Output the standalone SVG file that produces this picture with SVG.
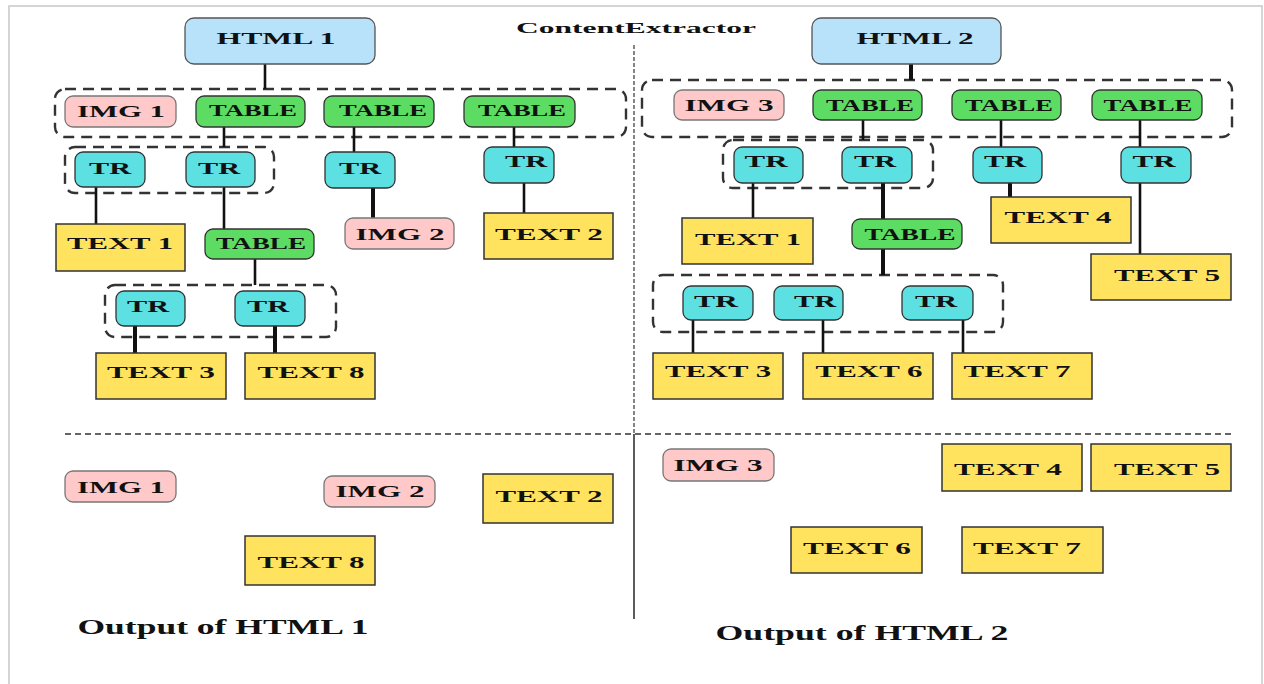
<svg xmlns="http://www.w3.org/2000/svg" width="1264" height="684" viewBox="0 0 1264 684">
<style>
.html{fill:#b8e2fa;stroke:#555;stroke-width:1.3}
.img{fill:#ffc9c9;stroke:#777;stroke-width:1.3}
.tbl{fill:#5cdc62;stroke:#333;stroke-width:1.3}
.tr{fill:#5ce0e2;stroke:#333;stroke-width:1.3}
.txt{fill:#ffe35e;stroke:#333;stroke-width:1.5}
.grp{fill:none;stroke:#333;stroke-width:2.4;stroke-dasharray:11 7}
text{font-family:"Liberation Serif","Times New Roman",serif;font-weight:bold;fill:#111;text-anchor:middle}
.n{font-size:17px}
.h{font-size:17px}
.conn line{stroke:#111;stroke-width:2.6}
.conn line.thick{stroke-width:4}
</style>
<rect x="9" y="6" width="1253" height="690" fill="#fff" stroke="#c8c8c8" stroke-width="1.5"/>
<text x="636" y="33" font-size="15" textLength="240" lengthAdjust="spacingAndGlyphs">ContentExtractor</text>
<g id="separators">
<line x1="634" y1="45" x2="634" y2="434" stroke="#333" stroke-width="1.2" stroke-dasharray="4 2"/>
<line x1="634" y1="434" x2="634" y2="619" stroke="#333" stroke-width="1.6"/>
<line x1="65" y1="434" x2="1231" y2="434" stroke="#333" stroke-width="1.5" stroke-dasharray="6 4"/>
</g>
<g id="groups">
<rect class="grp" x="55" y="89" width="571" height="48" rx="10"/>
<rect class="grp" x="65" y="147" width="209" height="46" rx="10"/>
<rect class="grp" x="105" y="285" width="231" height="52" rx="10"/>
<rect class="grp" x="642" y="80" width="590" height="57" rx="10"/>
<rect class="grp" x="723" y="140" width="210" height="48" rx="10"/>
<rect class="grp" x="653" y="275" width="350" height="57" rx="10"/>
</g>
<g class="conn" id="connectors">
<line x1="265" y1="64" x2="265" y2="89"/>
<line x1="224" y1="127" x2="224" y2="147"/>
<line x1="354" y1="127" x2="354" y2="152"/>
<line x1="514" y1="127" x2="514" y2="147"/>
<line x1="96" y1="187" x2="96" y2="224"/>
<line x1="224" y1="187" x2="224" y2="229"/>
<line class="thick" x1="373" y1="188" x2="373" y2="218"/>
<line x1="524" y1="183" x2="524" y2="213"/>
<line x1="255" y1="259" x2="255" y2="285"/>
<line class="thick" x1="135" y1="326" x2="135" y2="353"/>
<line class="thick" x1="275" y1="326" x2="275" y2="353"/>
<line class="thick" x1="911" y1="64" x2="911" y2="80"/>
<line x1="863" y1="120" x2="863" y2="140"/>
<line x1="1001" y1="120" x2="1001" y2="147"/>
<line x1="1140" y1="120" x2="1140" y2="147"/>
<line x1="753" y1="183" x2="753" y2="218"/>
<line class="thick" x1="883" y1="183" x2="883" y2="219"/>
<line class="thick" x1="1010" y1="183" x2="1010" y2="197"/>
<line x1="1140" y1="183" x2="1140" y2="254"/>
<line class="thick" x1="883" y1="249" x2="883" y2="275"/>
<line x1="693" y1="320" x2="693" y2="353"/>
<line x1="823" y1="320" x2="823" y2="353"/>
<line x1="963" y1="320" x2="963" y2="353"/>
</g>
<!-- Left tree -->
<g id="html1"><rect class="html" x="185" y="18" width="190" height="46" rx="9"/><text class="h" x="276" y="44" textLength="119" lengthAdjust="spacingAndGlyphs">HTML 1</text></g>
<g id="img1"><rect class="img" x="65" y="96" width="111" height="31" rx="8"/><text class="n" x="121" y="117" textLength="88" lengthAdjust="spacingAndGlyphs">IMG 1</text></g>
<g id="table1a"><rect class="tbl" x="196" y="96" width="109" height="31" rx="8"/><text class="n" x="253" y="116" textLength="88" lengthAdjust="spacingAndGlyphs">TABLE</text></g>
<g id="table1b"><rect class="tbl" x="324" y="96" width="110" height="31" rx="8"/><text class="n" x="383" y="116" textLength="88" lengthAdjust="spacingAndGlyphs">TABLE</text></g>
<g id="table1c"><rect class="tbl" x="464" y="96" width="111" height="31" rx="8"/><text class="n" x="522" y="116" textLength="88" lengthAdjust="spacingAndGlyphs">TABLE</text></g>
<g id="tr1a"><rect class="tr" x="75" y="152" width="70" height="35" rx="8"/><text class="n" x="110" y="174" textLength="42" lengthAdjust="spacingAndGlyphs">TR</text></g>
<g id="tr1b"><rect class="tr" x="186" y="152" width="69" height="35" rx="8"/><text class="n" x="219" y="174" textLength="42" lengthAdjust="spacingAndGlyphs">TR</text></g>
<g id="tr1c"><rect class="tr" x="325" y="152" width="70" height="36" rx="8"/><text class="n" x="360" y="174" textLength="42" lengthAdjust="spacingAndGlyphs">TR</text></g>
<g id="tr1d"><rect class="tr" x="484" y="147" width="70" height="36" rx="8"/><text class="n" x="526" y="167" textLength="42" lengthAdjust="spacingAndGlyphs">TR</text></g>
<g id="text1a"><rect class="txt" x="56" y="224" width="129" height="47"/><text class="n" x="120" y="249" textLength="106" lengthAdjust="spacingAndGlyphs">TEXT 1</text></g>
<g id="table1d"><rect class="tbl" x="205" y="229" width="109" height="30" rx="8"/><text class="n" x="261" y="249" textLength="90" lengthAdjust="spacingAndGlyphs">TABLE</text></g>
<g id="img2"><rect class="img" x="345" y="218" width="109" height="31" rx="8"/><text class="n" x="400" y="240" textLength="89" lengthAdjust="spacingAndGlyphs">IMG 2</text></g>
<g id="text2"><rect class="txt" x="484" y="213" width="129" height="46"/><text class="n" x="549" y="240" textLength="108" lengthAdjust="spacingAndGlyphs">TEXT 2</text></g>
<g id="tr1e"><rect class="tr" x="116" y="291" width="69" height="35" rx="8"/><text class="n" x="148" y="312" textLength="42" lengthAdjust="spacingAndGlyphs">TR</text></g>
<g id="tr1f"><rect class="tr" x="235" y="291" width="70" height="35" rx="8"/><text class="n" x="268" y="312" textLength="42" lengthAdjust="spacingAndGlyphs">TR</text></g>
<g id="text3a"><rect class="txt" x="96" y="353" width="130" height="46"/><text class="n" x="161" y="378" textLength="108" lengthAdjust="spacingAndGlyphs">TEXT 3</text></g>
<g id="text8"><rect class="txt" x="245" y="353" width="130" height="46"/><text class="n" x="311" y="378" textLength="107" lengthAdjust="spacingAndGlyphs">TEXT 8</text></g>
<!-- Right tree -->
<g id="html2"><rect class="html" x="812" y="18" width="189" height="46" rx="9"/><text class="h" x="915" y="44" textLength="117" lengthAdjust="spacingAndGlyphs">HTML 2</text></g>
<g id="img3"><rect class="img" x="674" y="90" width="110" height="30" rx="8"/><text class="n" x="729" y="111" textLength="89" lengthAdjust="spacingAndGlyphs">IMG 3</text></g>
<g id="table2a"><rect class="tbl" x="813" y="90" width="109" height="30" rx="8"/><text class="n" x="870" y="111" textLength="88" lengthAdjust="spacingAndGlyphs">TABLE</text></g>
<g id="table2b"><rect class="tbl" x="952" y="90" width="109" height="30" rx="8"/><text class="n" x="1009" y="111" textLength="88" lengthAdjust="spacingAndGlyphs">TABLE</text></g>
<g id="table2c"><rect class="tbl" x="1092" y="90" width="110" height="30" rx="8"/><text class="n" x="1148" y="111" textLength="89" lengthAdjust="spacingAndGlyphs">TABLE</text></g>
<g id="tr2a"><rect class="tr" x="734" y="147" width="69" height="36" rx="8"/><text class="n" x="766" y="167" textLength="43" lengthAdjust="spacingAndGlyphs">TR</text></g>
<g id="tr2b"><rect class="tr" x="842" y="147" width="70" height="36" rx="8"/><text class="n" x="875" y="167" textLength="42" lengthAdjust="spacingAndGlyphs">TR</text></g>
<g id="tr2c"><rect class="tr" x="973" y="147" width="69" height="36" rx="8"/><text class="n" x="1005" y="167" textLength="42" lengthAdjust="spacingAndGlyphs">TR</text></g>
<g id="tr2d"><rect class="tr" x="1121" y="147" width="70" height="36" rx="8"/><text class="n" x="1154" y="167" textLength="43" lengthAdjust="spacingAndGlyphs">TR</text></g>
<g id="text1b"><rect class="txt" x="682" y="218" width="131" height="46"/><text class="n" x="748" y="245" textLength="106" lengthAdjust="spacingAndGlyphs">TEXT 1</text></g>
<g id="table2d"><rect class="tbl" x="852" y="219" width="110" height="30" rx="8"/><text class="n" x="910" y="240" textLength="91" lengthAdjust="spacingAndGlyphs">TABLE</text></g>
<g id="text4"><rect class="txt" x="991" y="197" width="140" height="46"/><text class="n" x="1058" y="223" textLength="107" lengthAdjust="spacingAndGlyphs">TEXT 4</text></g>
<g id="text5"><rect class="txt" x="1091" y="254" width="140" height="46"/><text class="n" x="1167" y="281" textLength="106" lengthAdjust="spacingAndGlyphs">TEXT 5</text></g>
<g id="tr2e"><rect class="tr" x="683" y="286" width="70" height="34" rx="8"/><text class="n" x="716" y="307" textLength="44" lengthAdjust="spacingAndGlyphs">TR</text></g>
<g id="tr2f"><rect class="tr" x="774" y="286" width="69" height="34" rx="8"/><text class="n" x="815" y="307" textLength="42" lengthAdjust="spacingAndGlyphs">TR</text></g>
<g id="tr2g"><rect class="tr" x="902" y="286" width="71" height="34" rx="8"/><text class="n" x="936" y="307" textLength="42" lengthAdjust="spacingAndGlyphs">TR</text></g>
<g id="text3b"><rect class="txt" x="653" y="353" width="130" height="46"/><text class="n" x="718" y="377" textLength="106" lengthAdjust="spacingAndGlyphs">TEXT 3</text></g>
<g id="text6"><rect class="txt" x="803" y="353" width="130" height="46"/><text class="n" x="869" y="377" textLength="107" lengthAdjust="spacingAndGlyphs">TEXT 6</text></g>
<g id="text7"><rect class="txt" x="952" y="353" width="140" height="46"/><text class="n" x="1017" y="377" textLength="107" lengthAdjust="spacingAndGlyphs">TEXT 7</text></g>
<!-- Output HTML 1 -->
<g id="out-img1"><rect class="img" x="65" y="471" width="111" height="31" rx="8"/><text class="n" x="121" y="493" textLength="88" lengthAdjust="spacingAndGlyphs">IMG 1</text></g>
<g id="out-img2"><rect class="img" x="324" y="476" width="111" height="31" rx="8"/><text class="n" x="380" y="497" textLength="89" lengthAdjust="spacingAndGlyphs">IMG 2</text></g>
<g id="out-text2"><rect class="txt" x="483" y="474" width="130" height="49"/><text class="n" x="549" y="502" textLength="107" lengthAdjust="spacingAndGlyphs">TEXT 2</text></g>
<g id="out-text8"><rect class="txt" x="245" y="536" width="130" height="49"/><text class="n" x="311" y="568" textLength="107" lengthAdjust="spacingAndGlyphs">TEXT 8</text></g>
<text x="223" y="634" font-size="21" textLength="291" lengthAdjust="spacingAndGlyphs">Output of HTML 1</text>
<!-- Output HTML 2 -->
<g id="out-img3"><rect class="img" x="663" y="449" width="111" height="32" rx="8"/><text class="n" x="718" y="471" textLength="89" lengthAdjust="spacingAndGlyphs">IMG 3</text></g>
<g id="out-text4"><rect class="txt" x="942" y="444" width="140" height="47"/><text class="n" x="1008" y="475" textLength="108" lengthAdjust="spacingAndGlyphs">TEXT 4</text></g>
<g id="out-text5"><rect class="txt" x="1091" y="444" width="140" height="47"/><text class="n" x="1167" y="475" textLength="106" lengthAdjust="spacingAndGlyphs">TEXT 5</text></g>
<g id="out-text6"><rect class="txt" x="791" y="527" width="131" height="46"/><text class="n" x="857" y="554" textLength="108" lengthAdjust="spacingAndGlyphs">TEXT 6</text></g>
<g id="out-text7"><rect class="txt" x="962" y="527" width="141" height="46"/><text class="n" x="1027" y="554" textLength="108" lengthAdjust="spacingAndGlyphs">TEXT 7</text></g>
<text x="862" y="640" font-size="21" textLength="293" lengthAdjust="spacingAndGlyphs">Output of HTML 2</text>
</svg>
